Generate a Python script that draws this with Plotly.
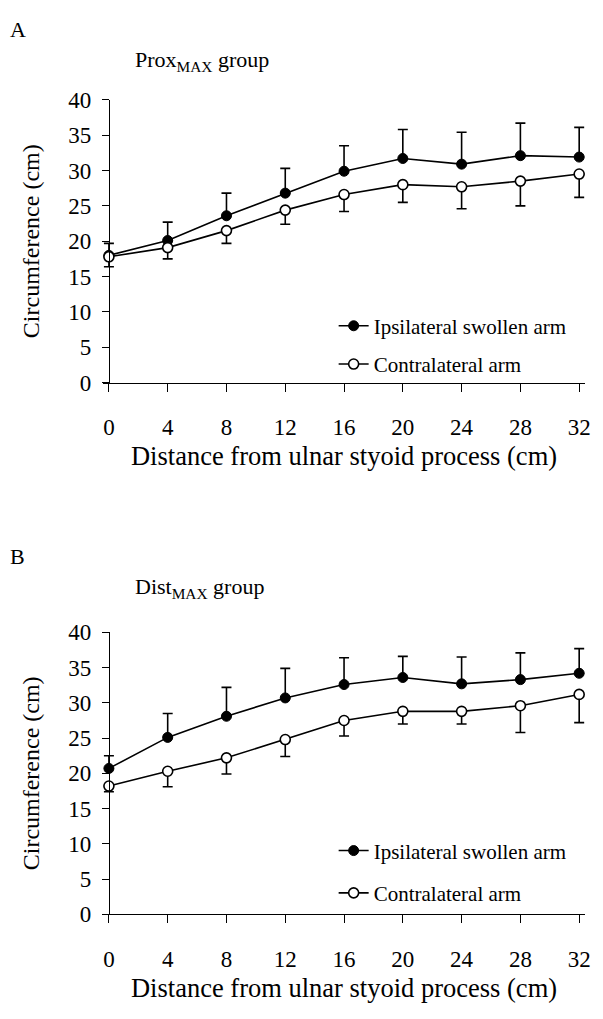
import plotly.graph_objects as go

# ---------------- data ----------------
distance = [0, 4, 8, 12, 16, 20, 24, 28, 32]
x_ticks = [0, 4, 8, 12, 16, 20, 24, 28, 32]
y_ticks = [0, 5, 10, 15, 20, 25, 30, 35, 40]

# Panel A: Prox_MAX group
a_ipsi = [18.0, 20.1, 23.6, 26.8, 29.9, 31.7, 30.9, 32.1, 31.9]
a_ipsi_err_up = [1.7, 2.6, 3.2, 3.5, 3.6, 4.1, 4.5, 4.6, 4.2]
a_contra = [17.8, 19.1, 21.5, 24.4, 26.6, 28.0, 27.7, 28.5, 29.5]
a_contra_err_down = [1.4, 1.6, 1.8, 2.0, 2.4, 2.5, 3.1, 3.5, 3.3]

# Panel B: Dist_MAX group
b_ipsi = [20.7, 25.1, 28.1, 30.7, 32.6, 33.6, 32.7, 33.3, 34.2]
b_ipsi_err_up = [1.8, 3.4, 4.1, 4.2, 3.8, 3.0, 3.8, 3.8, 3.5]
b_contra = [18.2, 20.3, 22.2, 24.8, 27.5, 28.8, 28.8, 29.6, 31.2]
b_contra_err_down = [0.8, 2.2, 2.3, 2.4, 2.2, 1.8, 1.8, 3.8, 4.0]

series_names = ["Ipsilateral swollen arm", "Contralateral arm"]
panel_titles = ["Prox<sub>MAX</sub> group", "Dist<sub>MAX</sub> group"]
panel_letters = ["A", "B"]
x_title = "Distance from ulnar styoid process (cm)"
y_title = "Circumference (cm)"

# ---------------- layout helpers ----------------
W, H = 603, 1019
FONT = "Liberation Serif, Times New Roman, serif"

X0_PX, X32_PX = 110, 585          # pixel positions of x = 0 and x = 32
X_PAD = 0.4                        # small pad so end error-bar caps are not clipped
X_MIN, X_MAX = 0, 32
unit = (X32_PX - X0_PX) / (X_MAX - X_MIN)


def px_x(p):
    return p / W


def px_y(p):
    return 1 - p / H


fig = go.Figure()

panels = [
    dict(ipsi=a_ipsi, up=a_ipsi_err_up, contra=a_contra, down=a_contra_err_down,
         xa="x", ya="y", legend="legend", top=90, bottom=380,
         leg_top=301, leg_gap=8, letter_y=18, title_y=50),
    dict(ipsi=b_ipsi, up=b_ipsi_err_up, contra=b_contra, down=b_contra_err_down,
         xa="x2", ya="y2", legend="legend2", top=636, bottom=925,
         leg_top=839, leg_gap=12, letter_y=558, title_y=590),
]

for i, p in enumerate(panels):
    fig.add_trace(go.Scatter(
        x=distance, y=p["ipsi"], mode="lines+markers", name=series_names[0],
        xaxis=p["xa"], yaxis=p["ya"], legend=p["legend"], legendgroup=f"g{i}a",
        line=dict(color="black", width=1.6),
        marker=dict(symbol="circle", size=10, color="black",
                    line=dict(color="black", width=1)),
        error_y=dict(type="data", symmetric=False, array=p["up"],
                     arrayminus=[0] * len(p["up"]), color="black",
                     thickness=1.6, width=5),
        cliponaxis=False,
    ))
    fig.add_trace(go.Scatter(
        x=distance, y=p["contra"], mode="lines+markers", name=series_names[1],
        xaxis=p["xa"], yaxis=p["ya"], legend=p["legend"], legendgroup=f"g{i}b",
        line=dict(color="black", width=1.6),
        marker=dict(symbol="circle", size=10, color="white",
                    line=dict(color="black", width=1.6)),
        error_y=dict(type="data", symmetric=False, array=[0] * len(p["down"]),
                     arrayminus=p["down"], color="black",
                     thickness=1.6, width=5),
        cliponaxis=False,
    ))

axis_common = dict(
    showline=True, linecolor="black", linewidth=1.2, showgrid=False,
    zeroline=False, ticks="outside", tickcolor="black", tickwidth=1.2,
    tickfont=dict(family=FONT, size=23, color="black"),
)

layout = dict(
    width=W, height=H,
    margin=dict(l=0, r=0, t=0, b=0),
    paper_bgcolor="white", plot_bgcolor="white",
    showlegend=True,
    font=dict(family=FONT, color="black"),
)

x_dom = [px_x(X0_PX - X_PAD * unit), px_x(X32_PX + X_PAD * unit)]

annotations = []
for i, p in enumerate(panels):
    sfx = "" if i == 0 else "2"
    layout["xaxis" + sfx] = dict(
        axis_common, domain=x_dom, range=[X_MIN - X_PAD, X_MAX + X_PAD],
        tickvals=x_ticks, ticklen=8, ticklabelstandoff=16,
        anchor="y" + sfx,
        title=dict(text=x_title, font=dict(family=FONT, size=26.5, color="black"),
                   standoff=7),
    )
    layout["yaxis" + sfx] = dict(
        axis_common, domain=[px_y(p["bottom"]), px_y(p["top"])], range=[0, 40],
        tickvals=y_ticks, ticklen=7, ticklabelstandoff=6,
        anchor="free", overlaying=None, position=px_x(X0_PX),
        title=dict(text=y_title, font=dict(family=FONT, size=24, color="black"),
                   standoff=20),
    )
    layout[p["legend"]] = dict(
        x=px_x(337), y=px_y(p["leg_top"]), xanchor="left", yanchor="top",
        bgcolor="rgba(0,0,0,0)", borderwidth=0,
        font=dict(family=FONT, size=21, color="black"),
        traceorder="grouped", tracegroupgap=p["leg_gap"], itemwidth=30,
    )
    annotations.append(dict(
        text=panel_letters[i], x=px_x(8), y=px_y(p["letter_y"]),
        xref="paper", yref="paper", xanchor="left", yanchor="middle",
        showarrow=False, font=dict(family=FONT, size=22, color="black"),
    ))
    annotations.append(dict(
        text=panel_titles[i], x=px_x(134), y=px_y(p["title_y"]),
        xref="paper", yref="paper", xanchor="left", yanchor="middle",
        showarrow=False, font=dict(family=FONT, size=22, color="black"),
    ))

layout["annotations"] = annotations
fig.update_layout(**layout)

fig.write_html("out.html")
